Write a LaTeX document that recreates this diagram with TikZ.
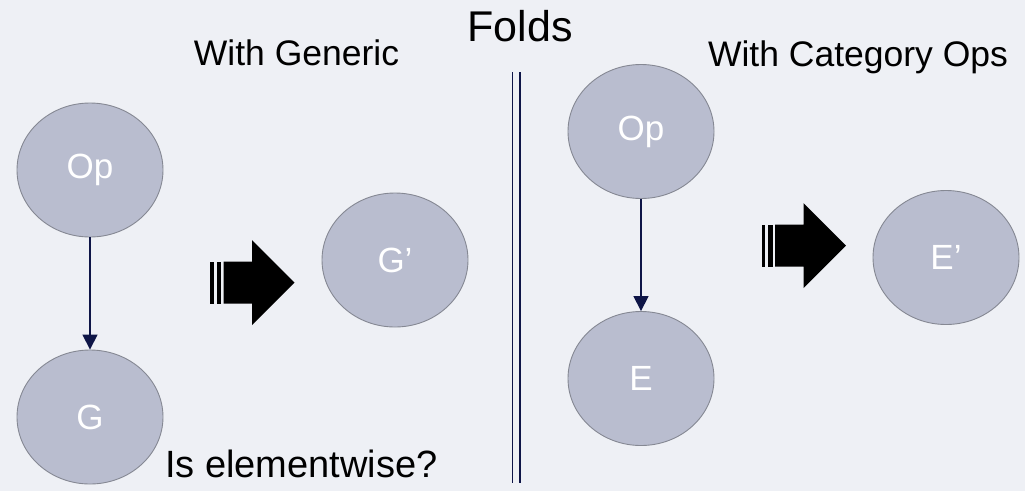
\documentclass[tikz,border=0pt]{standalone}
\usepackage{fontspec}
\setmainfont{Liberation Sans}
\usetikzlibrary{shapes.geometric,arrows.meta}
\definecolor{bg}{HTML}{EEF0F5}
\definecolor{circfill}{HTML}{B9BDCF}
\definecolor{circline}{HTML}{858893}
\definecolor{navy}{HTML}{0E1547}
\tikzset{
  blob/.style={ellipse, draw=circline, line width=0.9pt, fill=circfill,
    minimum width=146pt, minimum height=134pt, inner sep=0pt,
    text=white, font=\fontsize{35}{35}\selectfont},
  conn/.style={draw=navy, line width=1.6pt, -{Triangle[width=15pt,length=15pt]}},
  title/.style={anchor=base, inner sep=0pt, text=black},
}
\newcommand{\blockarr}[2]{% #1 = x of stripe start, #2 = center y
  \fill[black] (#1,#2-21) rectangle ++(3.5,42);
  \fill[black] (#1+6.5,#2-21) rectangle ++(4.5,42);
  \fill[black] (#1+13.5,#2-21) -- (#1+42,#2-21) -- (#1+42,#2-42.5)
     -- (#1+84.5,#2) -- (#1+42,#2+42.5) -- (#1+42,#2+21) -- (#1+13.5,#2+21) -- cycle;
}
\begin{document}
\begin{tikzpicture}[x=1pt,y=-1pt]
\fill[bg] (0,0) rectangle (1025,491);
\useasboundingbox (0,0) rectangle (1025,491);

% titles
\node[title, font=\fontsize{43}{43}\selectfont] (folds) at (520,41) {Folds};
\node[title, font=\fontsize{35.5}{35.5}\selectfont] (wg) at (296.5,65) {With Generic};
\node[title, font=\fontsize{35.5}{35.5}\selectfont] (wc) at (858,66) {With Category Ops};
\node[anchor=base west, inner sep=0pt, font=\fontsize{38}{38}\selectfont] (iselem) at (165,477) {Is elementwise?};

% separator
\draw[navy, line width=1.8pt] (512.5,72) -- (512.5,483);
\draw[navy, line width=1.8pt] (520,72) -- (520,483);

% left side
\node[blob] (op1) at (90,170) {Op};
\node[blob] (g) at (90,417) {G};
\node[blob] (gp) at (395,260) {G’};
\draw[conn] (op1) -- (g);

% right side
\node[blob] (op2) at (641,131.5) {Op};
\node[blob] (e) at (641,378.5) {E};
\node[blob] (ep) at (946,257.5) {E’};
\draw[conn] (op2) -- (e);

% block arrows
\blockarr{210}{282.5}
\blockarr{761.5}{245.7}
\end{tikzpicture}
\end{document}
